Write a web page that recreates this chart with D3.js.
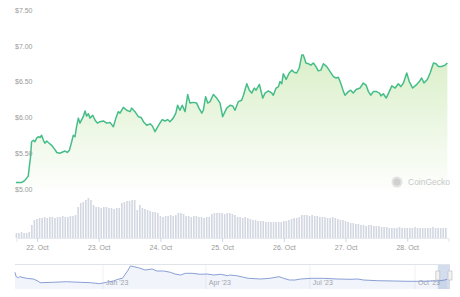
<!DOCTYPE html>
<html>
<head>
<meta charset="utf-8">
<script src="https://cdn.jsdelivr.net/npm/d3@7"></script>
<style>
  body { margin: 0; background: #fff; }
  svg { font-family: "Liberation Sans", Arial, sans-serif; }
</style>
</head>
<body>
<div id="chart"></div>
<script>
// price trace, hours from 22 Oct 00:00
const priceHours = [-8.2,-6.0,-4.7,-3.4,-2.5,-2.1,-1.4,-0.8,-0.1,0.5,1.2,1.8,2.5,3.1,3.8,4.4,5.7,7.0,7.7,8.9,
  10.2,10.9,11.8,12.6,13.5,14.1,14.8,15.4,16.1,16.7,18.0,18.7,19.3,20.0,20.6,21.7,22.6,23.5,24.5,25.8,
  27.1,28.4,29.7,30.7,31.6,32.3,33.6,34.9,36.2,36.8,38.1,39.4,40.5,41.4,42.7,44.0,44.9,45.9,47.0,47.8,
  48.7,49.8,50.8,51.7,53.0,54.0,54.7,55.6,56.5,57.6,58.6,59.5,60.8,62.1,63.0,64.1,64.7,65.6,66.4,67.3,
  68.6,69.9,71.2,72.2,73.8,75.1,76.1,77.0,78.3,79.6,80.3,81.6,82.6,83.5,84.5,85.2,86.5,87.8,88.7,90.0,
  91.3,91.9,93.0,93.9,94.5,95.2,95.8,96.9,98.1,99.1,100.0,101.0,102.0,103.0,103.6,104.6,105.5,106.5,107.5,108.5,
  109.4,110.4,111.4,112.7,114.0,115.3,116.3,117.2,118.1,119.2,119.8,121.1,122.0,123.0,124.1,125.6,126.9,128.0,128.9,129.8,
  130.8,132.1,133.2,133.8,134.7,135.8,137.0,138.0,139.3,140.5,141.5,142.5,143.8,144.8,146.1,147.4,148.7,149.6,150.5,151.8,
  152.9,154.2,155.2,156.1,157.4,158.7,159.6];
const prices = [5.09,5.09,5.12,5.18,5.45,5.66,5.68,5.66,5.71,5.73,5.72,5.75,5.68,5.64,5.67,5.65,5.61,5.55,5.51,5.50,
  5.52,5.53,5.51,5.54,5.66,5.75,5.73,5.87,5.99,5.92,6.01,6.09,6.02,6.05,5.99,6.03,5.96,5.92,5.94,5.95,
  5.92,5.93,5.87,5.99,6.08,6.06,6.14,6.10,6.08,6.13,6.08,6.01,6.00,5.94,5.89,5.91,5.88,5.80,5.87,5.92,
  5.97,5.95,5.97,5.94,5.99,6.06,6.17,6.10,6.17,6.08,6.32,6.20,6.21,6.20,6.13,6.06,6.10,6.29,6.20,6.22,
  6.32,6.27,6.20,6.01,6.13,6.17,6.16,6.10,6.22,6.24,6.31,6.47,6.38,6.34,6.41,6.38,6.46,6.27,6.34,6.37,
  6.34,6.31,6.41,6.43,6.50,6.47,6.61,6.53,6.62,6.66,6.63,6.62,6.69,6.87,6.87,6.76,6.75,6.73,6.76,6.71,
  6.65,6.66,6.75,6.71,6.64,6.57,6.55,6.56,6.48,6.36,6.31,6.36,6.38,6.34,6.39,6.41,6.48,6.45,6.36,6.31,
  6.36,6.36,6.34,6.30,6.33,6.27,6.36,6.44,6.41,6.47,6.43,6.48,6.62,6.50,6.41,6.45,6.50,6.55,6.48,6.53,
  6.62,6.76,6.75,6.71,6.71,6.73,6.76];

// hourly volume (millions), first bar at hour -8
const volumeStartHour = -8;
const volumes = [0.5,0.5,0.6,0.5,0.5,0.6,1.3,1.8,
  1.9,2.0,2.0,2.1,2.0,2.1,2.1,2.0,2.1,2.1,2.2,2.1,2.1,
  2.2,2.2,2.3,
  3.1,3.5,3.6,3.8,4.0,3.8,3.3,
  3.1,3.1,3.0,3.1,3.1,3.0,
  3.0,2.9,3.0,3.0,
  3.5,3.6,3.7,3.7,3.8,
  3.8,2.8,3.3,
  3.0,2.9,2.8,2.7,2.6,2.6,2.5,
  2.2,2.1,2.2,2.2,2.3,2.2,2.3,
  2.5,2.5,2.4,
  2.2,2.2,2.1,2.2,2.2,2.1,
  2.1,2.0,2.1,2.1,
  2.4,2.5,2.5,2.5,2.5,2.4,2.5,2.5,2.4,2.3,
  2.1,2.1,2.0,2.1,2.0,1.9,
  1.8,1.8,1.7,1.7,1.7,
  1.6,1.6,1.6,1.6,1.6,1.6,1.6,1.7,1.7,1.8,
  1.9,2.0,2.0,2.1,
  2.3,2.3,2.3,2.2,2.3,2.2,2.2,2.1,
  2.1,2.1,2.0,2.0,2.1,2.0,1.9,
  1.8,1.8,1.7,1.6,1.5,1.5,1.4,1.4,
  1.3,1.3,1.2,1.3,1.3,1.2,1.2,1.2,1.1,1.1,1.1,1.0,
  1.0,1.0,1.0,1.1,1.0,1.0,1.0,1.0,1.0,1.1,1.0,1.0,1.0,1.0,1.0,1.0,1.1,1.0,1.0,1.0,1.0,1.0];

// navigator: days from 1 Jan 2023, price
const navDays = [-77,-76,-74,-73,-67,-61,-57,-55,-44,-32,-20,-11,-3,3,9,13,17,19,22,24,
  27,31,37,43,47,53,59,63,68,72,78,85,91,97,103,109,111,117,127,138,
  146,154,158,163,168,173,182,193,205,217,223,228,240,255,266,278,287,293,299,301];
const navPrices = [10.96,8.32,7.72,8.32,7.36,6.94,5.74,4.72,4.96,5.32,4.96,4.72,4.12,4.96,5.74,6.76,7.36,9.34,12.34,14.74,
  14.32,13.72,12.34,12.94,11.74,11.74,10.96,9.94,9.34,10.36,10.36,9.76,9.94,9.34,9.76,8.92,9.34,8.92,7.36,6.94,
  7.36,8.32,7.36,6.34,6.34,6.94,7.36,7.36,6.94,6.76,6.94,6.34,5.92,5.74,5.56,5.56,5.74,5.74,6.34,6.76];
const navTickLabels = ["Jan '23", "Apr '23", "Jul '23", "Oct '23"];
const navTickDays = [0, 90, 181, 273];

const yTicks = [5.0, 5.5, 6.0, 6.5, 7.0, 7.5];

const W = 460, H = 297;
const base = new Date(2023, 9, 22);
const hourDate = h => new Date(base.getTime() + h * 3600000);
const dayDate = d => new Date(2023, 0, 1 + d);

const svg = d3.select("#chart").append("svg")
  .attr("width", W)
  .attr("height", H);

// scales
const x = d3.scaleTime()
  .domain([hourDate(-8), hourDate(160)])
  .range([16.4, 448.4]);

const y = d3.scaleLinear()
  .domain([5, 7.5])
  .range([189, 10]);

const yVol = d3.scaleLinear()
  .domain([0, 4.4])
  .range([238, 194]);

const priceData = priceHours.map((h, i) => ({date: hourDate(h), value: prices[i]}));

// gradient for area
const defs = svg.append("defs");
const grad = defs.append("linearGradient")
  .attr("id", "areaGrad")
  .attr("gradientUnits", "userSpaceOnUse")
  .attr("x1", 0).attr("x2", 0)
  .attr("y1", y(6.9)).attr("y2", y(5.0));
grad.append("stop").attr("offset", "0%").attr("stop-color", "#a6d97c").attr("stop-opacity", 0.42);
grad.append("stop").attr("offset", "100%").attr("stop-color", "#a6d97c").attr("stop-opacity", 0.02);

// volume bars
svg.append("g")
  .selectAll("rect")
  .data(volumes)
  .join("rect")
  .attr("x", (d, i) => x(hourDate(volumeStartHour + i)) - 0.8)
  .attr("width", 1.6)
  .attr("y", d => yVol(d))
  .attr("height", d => yVol(0) - yVol(d))
  .attr("fill", "#d2d7e1");

// price area and line
const area = d3.area()
  .x(d => x(d.date))
  .y0(y(5.0))
  .y1(d => y(d.value));

svg.append("path")
  .datum(priceData)
  .attr("fill", "url(#areaGrad)")
  .attr("d", area);

const line = d3.line()
  .x(d => x(d.date))
  .y(d => y(d.value));

svg.append("path")
  .datum(priceData)
  .attr("fill", "none")
  .attr("stroke", "#45bd88")
  .attr("stroke-width", 1.5)
  .attr("stroke-linejoin", "round")
  .attr("d", line);

// y axis labels
const yAxis = svg.append("g")
  .attr("transform", "translate(15,0)")
  .call(d3.axisRight(y).tickValues(yTicks).tickSize(0).tickPadding(0).tickFormat(d3.format("$.2f")));
yAxis.select(".domain").remove();
yAxis.selectAll("text")
  .attr("fill", "#999")
  .attr("font-size", 7)
  .attr("font-family", "Liberation Sans, Arial, sans-serif");

// x axis
const xAxis = svg.append("g")
  .attr("transform", "translate(0,238)")
  .call(d3.axisBottom(x).ticks(d3.timeDay.every(1)).tickSize(4).tickPadding(3).tickFormat(d3.timeFormat("%-d. %b")));
xAxis.select(".domain").attr("stroke", "#e6e9f0");
xAxis.selectAll(".tick line").attr("stroke", "#ccd6eb");
xAxis.selectAll("text")
  .attr("fill", "#999")
  .attr("font-size", 7)
  .attr("font-family", "Liberation Sans, Arial, sans-serif");

// watermark
const wm = svg.append("g").attr("transform", "translate(397,182)");
wm.append("circle").attr("r", 5.5).attr("fill", "#e3e3e3");
wm.append("circle").attr("r", 3.5).attr("fill", "#d0d0d0");
wm.append("text")
  .attr("x", 11).attr("y", 3)
  .attr("fill", "#c8c8c8")
  .attr("font-size", 8.5)
  .text("CoinGecko");

// navigator
const xNav = d3.scaleTime()
  .domain([dayDate(-77), dayDate(301)])
  .range([15, 447]);
const yNav = d3.scaleLinear()
  .domain([2.74, 15.34])
  .range([286, 265]);
const navData = navDays.map((d, i) => ({date: dayDate(d), value: navPrices[i]}));

const nav = svg.append("g");
nav.append("line")
  .attr("x1", 15).attr("x2", 450)
  .attr("y1", 264.5).attr("y2", 264.5)
  .attr("stroke", "#e0e3ea");

nav.selectAll(".navgrid")
  .data(navTickDays)
  .join("line")
  .attr("x1", d => xNav(dayDate(d))).attr("x2", d => xNav(dayDate(d)))
  .attr("y1", 265).attr("y2", 289)
  .attr("stroke", "#f0f1f4");

nav.selectAll(".navlabel")
  .data(navTickDays)
  .join("text")
  .attr("x", d => xNav(dayDate(d)) + 3)
  .attr("y", 284.5)
  .attr("fill", "#a8a8a8")
  .attr("font-size", 7)
  .text((d, i) => navTickLabels[i]);

nav.append("path")
  .datum(navData)
  .attr("fill", "rgba(120,145,210,0.10)")
  .attr("d", d3.area().x(d => xNav(d.date)).y0(289).y1(d => yNav(d.value)));

nav.append("path")
  .datum(navData)
  .attr("fill", "none")
  .attr("stroke", "#8a9fd6")
  .attr("stroke-width", 1)
  .attr("d", d3.line().x(d => xNav(d.date)).y(d => yNav(d.value)));

// selected range
nav.append("rect")
  .attr("x", xNav(dayDate(293))).attr("y", 265)
  .attr("width", xNav(dayDate(301)) - xNav(dayDate(293)) + 3).attr("height", 24)
  .attr("fill", "rgba(102,133,194,0.28)");
nav.append("rect")
  .attr("x", xNav(dayDate(293)) - 2).attr("y", 271)
  .attr("width", 4).attr("height", 9)
  .attr("fill", "#f2f2f2").attr("stroke", "#b8b8b8").attr("stroke-width", 0.6);
nav.append("rect")
  .attr("x", xNav(dayDate(301)) + 1).attr("y", 271)
  .attr("width", 4).attr("height", 9)
  .attr("fill", "#f2f2f2").attr("stroke", "#b8b8b8").attr("stroke-width", 0.6);
</script>
</body>
</html>
